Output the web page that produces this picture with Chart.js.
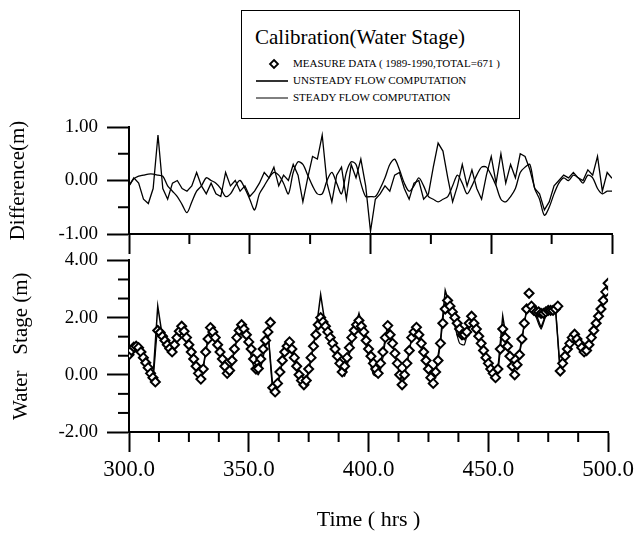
<!DOCTYPE html>
<html>
<head>
<meta charset="utf-8">
<script src="https://cdn.jsdelivr.net/npm/chart.js@4.4.1/dist/chart.umd.min.js"></script>
<style>
  body { margin: 0; background: #fff; width: 638px; height: 535px; position: relative; overflow: hidden; }
  canvas { position: absolute; left: 0; }
  #legend { position: absolute; left: 241px; top: 10px; width: 277px; height: 107px; border: 1.5px solid #000; background: #fff; font-family: 'Liberation Serif', 'Times New Roman', serif; color: #000; }
  #legend .ttl { position: absolute; left: 13px; top: 14px; font-size: 21px; white-space: nowrap; font-family: 'Liberation Serif', serif; }
  #legend .row { position: absolute; left: 51px; font-size: 11px; white-space: nowrap; font-family: 'Liberation Serif', serif; }
  #legend svg { position: absolute; left: 0; top: 0; }
</style>
</head>
<body>
<div id="legend">
  <svg width="277" height="107">
    <path d="M32 49 L36 53 L32 57 L28 53 Z" fill="#fff" stroke="#000" stroke-width="1.8"/>
    <line x1="14" y1="70" x2="46" y2="70" stroke="#000" stroke-width="1.6"/>
    <line x1="14" y1="87" x2="46" y2="87" stroke="#000" stroke-width="1"/>
  </svg>
  <div class="ttl">Calibration(Water Stage)</div>
  <div class="row" style="top:46px">MEASURE DATA ( 1989-1990,TOTAL=671 )</div>
  <div class="row" style="top:63px">UNSTEADY FLOW COMPUTATION</div>
  <div class="row" style="top:80px">STEADY FLOW COMPUTATION</div>
</div>
<canvas id="diffChart" width="638" height="160" style="top:100px"></canvas>
<canvas id="stageChart" width="638" height="295" style="top:240px"></canvas>
<script>
// time window (hrs)
const T_START = 300;
const T_END = 500;

// measured water stage, one value per hour from 300 to 500 (m)
const measured = [
  0.70, 0.85, 0.97, 1.00, 0.95, 0.80, 0.60, 0.42, 0.25, 0.05,
  -0.10, -0.25, 1.55, 1.48, 1.35, 1.20, 1.05, 0.92, 0.80, 1.05,
  1.30, 1.52, 1.70, 1.52, 1.30, 1.05, 0.80, 0.55, 0.30, 0.05,
  -0.15, 0.20, 0.80, 1.25, 1.65, 1.50, 1.30, 1.05, 0.80, 0.55,
  0.30, 0.05, 0.15, 0.50, 0.90, 1.30, 1.55, 1.75, 1.60, 1.40,
  1.15, 0.90, 0.55, 0.20, 0.22, 0.55, 0.90, 1.20, 1.50, 1.83,
  -0.45, -0.60, -0.30, 0.10, 0.50, 0.80, 1.00, 1.15, 0.90, 0.60,
  0.30, 0.00, -0.20, -0.35, -0.20, 0.20, 0.60, 1.00, 1.40, 1.75,
  2.00, 1.85, 1.70, 1.50, 1.30, 1.10, 0.90, 0.65, 0.40, 0.10,
  0.30, 0.60, 0.95, 1.30, 1.55, 1.75, 1.90, 1.70, 1.50, 1.20,
  0.90, 0.65, 0.40, 0.20, 0.05, 0.40, 0.80, 1.30, 1.72, 1.40,
  1.10, 0.75, 0.40, 0.00, -0.35, 0.00, 0.40, 0.85, 1.30, 1.50,
  1.66, 1.40, 1.10, 0.80, 0.50, 0.20, -0.10, -0.30, 0.10, 0.50,
  1.10, 1.80, 2.30, 2.60, 2.40, 2.20, 2.00, 1.80, 1.60, 1.40,
  1.40, 1.50, 1.80, 2.05, 1.80, 1.60, 1.35, 1.10, 0.85, 0.60,
  0.40, 0.20, 0.05, -0.10, 0.20, 0.90, 1.60, 1.30, 1.00, 0.65,
  0.30, 0.00, 0.35, 0.70, 1.25, 1.80, 2.30, 2.85, 2.40, 2.25,
  2.20, 2.20, 2.15, 2.15, 2.20, 2.25, 2.25, 2.25, 2.30, 2.40,
  0.13, 0.40, 0.65, 0.90, 1.10, 1.30, 1.42, 1.25, 1.10, 0.95,
  0.80, 0.85, 1.05, 1.30, 1.55, 1.80, 2.05, 2.30, 2.60, 2.90,
  3.20
];

// computed water stage, one value every 2 hrs from 300 to 500 (m)
const unsteady = [
  0.70, 0.95, 0.95, 0.60, 0.25, -0.10, 2.40, 1.30, 0.95, 0.75,
  1.30, 1.75, 1.30, 0.80, 0.30, -0.20, 0.80, 1.70, 1.30, 0.80,
  0.30, 0.10, 0.90, 1.55, 1.60, 1.15, 0.50, 0.15, 0.90, 1.50,
  -0.40, -0.35, 0.50, 1.05, 0.90, 0.30, -0.25, -0.20, 0.60, 1.50,
  2.80, 1.70, 1.30, 0.90, 0.40, 0.25, 0.95, 1.55, 2.15, 1.50,
  0.90, 0.35, 0.00, 0.80, 1.75, 1.10, 0.40, -0.35, 0.40, 1.30,
  1.70, 1.10, 0.50, -0.10, 0.10, 1.20, 2.95, 2.40, 2.00, 1.55,
  1.35, 1.80, 1.80, 1.35, 0.85, 0.40, 0.05, 0.20, 2.05, 1.00,
  0.30, 0.35, 1.25, 2.30, 2.45, 2.10, 1.65, 2.10, 2.25, 2.30,
  0.20, 0.65, 1.10, 1.45, 1.10, 0.80, 1.05, 1.55, 2.05, 2.60,
  3.20
];
const steady = [
  0.65, 0.95, 0.95, 0.65, 0.30, -0.10, 1.60, 1.35, 1.00, 0.70,
  1.20, 1.60, 1.20, 0.70, 0.20, -0.20, 0.75, 1.60, 1.25, 0.70,
  0.15, 0.00, 0.85, 1.50, 1.55, 1.00, 0.30, 0.00, 0.60, 1.40,
  -0.50, -0.40, 0.45, 1.00, 0.85, 0.20, -0.35, -0.25, 0.55, 1.45,
  2.00, 1.65, 1.25, 0.80, 0.25, -0.05, 0.70, 1.40, 1.90, 1.45,
  0.70, 0.00, -0.05, 0.60, 1.65, 1.05, 0.35, -0.40, 0.35, 1.25,
  1.60, 1.05, 0.45, -0.15, 0.05, 1.10, 2.50, 2.25, 1.70, 1.10,
  1.05, 1.70, 1.85, 1.40, 0.90, 0.40, 0.00, 0.15, 1.55, 0.95,
  0.25, 0.30, 1.20, 2.25, 2.40, 2.00, 1.60, 2.05, 2.20, 2.30,
  0.15, 0.60, 1.05, 1.40, 1.05, 0.80, 1.00, 1.50, 2.00, 2.55,
  3.15
];

// difference (computed - measured), one value every 2 hrs (m)
const diffUnsteady = [
  -0.10, 0.05, -0.05, -0.35, -0.43, -0.15, 0.85, -0.15, -0.35, -0.05,
  0.00, -0.15, -0.20, -0.10, 0.15, -0.10, -0.25, -0.05, -0.25, -0.30,
  0.15, -0.10, 0.00, -0.20, -0.10, -0.30, -0.20, -0.05, 0.15, 0.05,
  0.25, -0.10, 0.10, 0.00, 0.30, 0.10, -0.40, 0.05, 0.45, 0.40,
  0.85, -0.05, -0.40, 0.10, 0.25, -0.35, 0.30, 0.05, 0.40, -0.10,
  -0.95, -0.35, -0.25, -0.10, -0.20, 0.10, 0.15, -0.15, -0.35, -0.05,
  0.00, -0.35, -0.25, 0.25, 0.70, 0.55, 0.05, -0.40, -0.10, 0.30,
  -0.10, 0.20, -0.15, -0.35, 0.10, 0.45, -0.05, 0.50, -0.05, 0.30,
  0.05, 0.50, 0.45, 0.20, -0.15, -0.25, -0.55, -0.40, -0.10, 0.00,
  0.10, 0.05, 0.15, 0.05, 0.00, 0.20, 0.10, 0.45, -0.20, 0.15,
  0.04
];
const diffSteady = [
  -0.10, 0.03, 0.08, 0.10, 0.12, 0.12, 0.10, 0.08, -0.10, -0.20,
  -0.30, -0.45, -0.60, -0.40, -0.20, -0.10, 0.05, 0.00, -0.05, -0.15,
  -0.30, -0.25, -0.10, 0.00, -0.15, -0.35, -0.55, -0.25, -0.10, 0.05,
  0.15, 0.10, -0.05, -0.25, 0.15, 0.35, 0.30, 0.10, -0.10, -0.25,
  -0.25, 0.00, 0.15, -0.05, -0.25, 0.15, 0.35, 0.30, -0.05, -0.30,
  -0.30, -0.30, -0.15, 0.05, 0.30, 0.40, 0.20, -0.05, -0.20, -0.10,
  0.05, -0.10, -0.30, -0.35, -0.40, -0.35, -0.30, -0.10, 0.10, -0.05,
  -0.25, -0.10, 0.10, 0.25, 0.25, 0.10, -0.10, -0.35, -0.40, -0.30,
  -0.15, 0.15, 0.25, 0.30, -0.15, -0.35, -0.65, -0.50, -0.25, -0.05,
  0.05, 0.00, 0.10, 0.05, -0.05, 0.10, 0.05, -0.15, -0.25, -0.20,
  -0.20
];

// axis ticks
const diffTicks = [-1, 0, 1];
const stageTicks = [-2, 0, 2, 4];
const timeTicks = [300, 350, 400, 450, 500];

function toPoints(values, step) {
  return values.map((v, i) => ({ x: T_START + i * step, y: v }));
}

const FONT = "'Liberation Serif', 'Times New Roman', serif";

// short in-between ticks, drawn against the chart's own scales
const minorTicks = {
  id: 'minorTicks',
  afterDraw(chart, args, opts) {
    const ctx = chart.ctx;
    const area = chart.chartArea;
    ctx.save();
    ctx.strokeStyle = '#000';
    ctx.lineWidth = 2;
    Object.keys(opts).forEach(id => {
      if (!opts[id] || !opts[id].step) return;
      const scale = chart.scales[id];
      const o = opts[id];
      const n = Math.round((scale.max - scale.min) / o.step);
      for (let k = 0; k <= n; k++) {
        const v = scale.min + k * o.step;
        const r = v / o.major;
        if (Math.abs(r - Math.round(r)) < 1e-6) continue;
        const p = scale.getPixelForValue(v);
        ctx.beginPath();
        if (scale.isHorizontal()) {
          ctx.moveTo(p, area.bottom);
          ctx.lineTo(p, area.bottom + o.len);
        } else {
          ctx.moveTo(area.left, p);
          ctx.lineTo(area.left - o.len, p);
        }
        ctx.stroke();
      }
    });
    ctx.restore();
  }
};

function xAxis(showLabels, height, title) {
  return {
    type: 'linear',
    min: T_START,
    max: T_END,
    afterBuildTicks: s => { s.ticks = timeTicks.map(v => ({ value: v })); },
    grid: { drawOnChartArea: false, drawTicks: true, tickLength: 20, tickWidth: 2, tickColor: '#000' },
    border: { display: true, width: 2, color: '#000' },
    ticks: {
      display: showLabels,
      padding: 4,
      color: '#000',
      font: { family: FONT, size: 23 },
      callback: v => Number(v).toFixed(1)
    },
    title: title ? { display: true, text: title, color: '#000', font: { family: FONT, size: 22 }, padding: { top: 0, bottom: 2 } } : { display: false },
    afterFit: s => { s.height = height; }
  };
}

function yAxis(min, max, tickValues, title, titlePad) {
  return {
    min: min,
    max: max,
    afterBuildTicks: s => { s.ticks = tickValues.map(v => ({ value: v })); },
    grid: { drawOnChartArea: false, drawTicks: true, tickLength: 22, tickWidth: 2, tickColor: '#000' },
    border: { display: true, width: 2, color: '#000' },
    ticks: {
      padding: 9,
      color: '#000',
      font: { family: FONT, size: 19 },
      callback: v => Number(v).toFixed(2)
    },
    title: { display: true, text: title, color: '#000', font: { family: FONT, size: 21 }, padding: { top: titlePad, bottom: 0 } },
    afterFit: s => { s.width = 129; }
  };
}

// Difference panel
new Chart(document.getElementById('diffChart').getContext('2d'), {
  type: 'line',
  data: {
    datasets: [{
      label: 'Unsteady - measured',
      data: toPoints(diffUnsteady, 2),
      borderColor: '#000',
      borderWidth: 1.3,
      pointRadius: 0,
      tension: 0
    }, {
      label: 'Steady - measured',
      data: toPoints(diffSteady, 2),
      borderColor: '#000',
      borderWidth: 1.3,
      pointRadius: 0,
      tension: 0.3
    }]
  },
  options: {
    responsive: false,
    animation: false,
    devicePixelRatio: 1,
    layout: { padding: { top: 27, right: 26, left: 0, bottom: 0 } },
    plugins: {
      legend: { display: false },
      tooltip: { enabled: false },
      minorTicks: { x: { step: 25, major: 50, len: 10 }, y: { step: 0.5, major: 1, len: 11 } }
    },
    scales: {
      x: xAxis(false, 26, null),
      y: yAxis(-1, 1, diffTicks, 'Difference(m)', 6)
    }
  },
  plugins: [minorTicks]
});

// Water stage panel
new Chart(document.getElementById('stageChart').getContext('2d'), {
  type: 'line',
  data: {
    datasets: [{
      label: 'MEASURE DATA ( 1989-1990,TOTAL=671 )',
      data: toPoints(measured, 1),
      showLine: false,
      pointStyle: 'rectRot',
      pointRadius: 4.5,
      pointBorderWidth: 2,
      pointBackgroundColor: '#fff',
      pointBorderColor: '#000',
      order: 0
    }, {
      label: 'UNSTEADY FLOW COMPUTATION',
      data: toPoints(unsteady, 2),
      borderColor: '#000',
      borderWidth: 1.5,
      pointRadius: 0,
      tension: 0,
      order: 1
    }, {
      label: 'STEADY FLOW COMPUTATION',
      data: toPoints(steady, 2),
      borderColor: '#000',
      borderWidth: 1.2,
      pointRadius: 0,
      tension: 0.2,
      order: 2
    }]
  },
  options: {
    responsive: false,
    animation: false,
    devicePixelRatio: 1,
    layout: { padding: { top: 14, right: 26, left: 0, bottom: 0 } },
    plugins: {
      legend: { display: false },
      tooltip: { enabled: false },
      minorTicks: { x: { step: 12.5, major: 50, len: 10 }, y: { step: 2 / 3, major: 2, len: 11 } }
    },
    scales: {
      x: xAxis(true, 103, 'Time ( hrs )'),
      y: yAxis(-2, 4, stageTicks, 'Water   Stage (m)', 9)
    }
  },
  plugins: [minorTicks]
});
</script>
</body>
</html>
